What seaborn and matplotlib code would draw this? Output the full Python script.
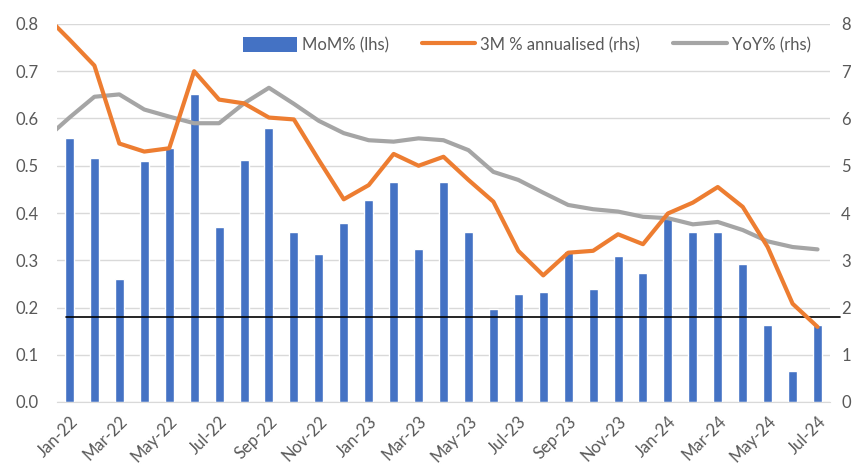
import numpy as np
import pandas as pd
import matplotlib
matplotlib.use("Agg")
import matplotlib.pyplot as plt
import seaborn as sns
from matplotlib.patches import Patch
from matplotlib.lines import Line2D

# ─────────────────────────────────────────────
# Data
# ─────────────────────────────────────────────
months = ["Jan-22", "Feb-22", "Mar-22", "Apr-22", "May-22", "Jun-22", "Jul-22", "Aug-22",
          "Sep-22", "Oct-22", "Nov-22", "Dec-22", "Jan-23", "Feb-23", "Mar-23", "Apr-23",
          "May-23", "Jun-23", "Jul-23", "Aug-23", "Sep-23", "Oct-23", "Nov-23", "Dec-23",
          "Jan-24", "Feb-24", "Mar-24", "Apr-24", "May-24", "Jun-24", "Jul-24"]

mom = [0.558, 0.516, 0.26, 0.509, 0.537, 0.651, 0.371, 0.513, 0.58, 0.36, 0.314, 0.378,
       0.427, 0.466, 0.324, 0.466, 0.36, 0.196, 0.229, 0.232, 0.32, 0.239, 0.31, 0.274,
       0.39, 0.36, 0.36, 0.292, 0.164, 0.065, 0.164]

ann3m = [7.67, 7.12, 5.47, 5.30, 5.37, 7.0, 6.4, 6.32, 6.02, 5.98, 5.12, 4.29, 4.59, 5.25,
         5.0, 5.19, 4.7, 4.24, 3.2, 2.68, 3.16, 3.2, 3.55, 3.34, 3.99, 4.22, 4.55, 4.13,
         3.28, 2.08, 1.59]

yoy = [6.02, 6.46, 6.51, 6.19, 6.04, 5.90, 5.90, 6.32, 6.65, 6.31, 5.95, 5.69, 5.54, 5.51,
       5.58, 5.54, 5.33, 4.87, 4.70, 4.43, 4.17, 4.08, 4.03, 3.92, 3.89, 3.76, 3.81, 3.64,
       3.40, 3.28, 3.23]

# Dec-21 values: the lines come in from the left edge of the plot (clipped)
ann3m_dec21 = 8.2
yoy_dec21 = 5.55

target_mom = 0.18

BLUE = "#4472C4"
ORANGE = "#ED7D31"
GREY = "#A5A5A5"
GRID = "#D9D9D9"
TEXT = "#595959"

bars = pd.DataFrame({"month": months, "mom": mom})
lines = pd.DataFrame({
    "pos": np.arange(-1, len(months)),
    "ann3m": [ann3m_dec21] + ann3m,
    "yoy": [yoy_dec21] + yoy,
})

# ─────────────────────────────────────────────
# Plot
# ─────────────────────────────────────────────
sns.set_style("white")
plt.rcParams["font.family"] = ["Lato", "DejaVu Sans"]
plt.rcParams["text.color"] = TEXT

fig, ax = plt.subplots(figsize=(8.6, 4.66), dpi=100)
fig.subplots_adjust(left=57 / 860, right=830 / 860, top=1 - 24 / 466, bottom=1 - 402 / 466)

sns.barplot(data=bars, x="month", y="mom", color=BLUE, saturation=1, width=0.36, ax=ax, zorder=2)
ax.axhline(target_mom, xmin=0.012, xmax=1.013, color="black", lw=1.2, zorder=3, clip_on=False)

ax2 = ax.twinx()
sns.lineplot(data=lines, x="pos", y="yoy", color=GREY, lw=3, ax=ax2)
sns.lineplot(data=lines, x="pos", y="ann3m", color=ORANGE, lw=3, ax=ax2)

ax.set_xlim(-0.5, len(months) - 0.5)
ax.set_ylim(0, 0.8)
ax2.set_ylim(0, 8)

ax.set_yticks(np.arange(0, 0.81, 0.1))
ax.set_yticklabels([f"{v:.1f}" for v in np.arange(0, 0.81, 0.1)])
ax2.set_yticks(range(0, 9))
ax.yaxis.grid(True, color=GRID, lw=1)
ax.set_axisbelow(True)

ax.set_xticks(range(0, len(months), 2))
ax.set_xticklabels(months[::2], rotation=45, ha="right", rotation_mode="anchor")
ax.set_xticks(np.arange(-0.5, len(months) - 1, 2), minor=True)
ax.tick_params(axis="x", which="major", length=0, pad=8, labelsize=12, labelcolor=TEXT)
ax.tick_params(axis="x", which="minor", length=5, color=GRID, width=1)
ax.tick_params(axis="y", length=0, pad=13, labelsize=12, labelcolor=TEXT)
ax2.tick_params(axis="y", length=0, pad=8, labelsize=12, labelcolor=TEXT)

for a in (ax, ax2):
    a.set_xlabel("")
    a.set_ylabel("")
    for s in ("top", "left", "right"):
        a.spines[s].set_visible(False)
ax.spines["bottom"].set_color(GRID)
ax2.spines["bottom"].set_visible(False)

handles = [
    Patch(facecolor=BLUE, edgecolor="none"),
    Line2D([], [], color=ORANGE, lw=3),
    Line2D([], [], color=GREY, lw=3),
]
labels = ["MoM% (lhs)", "3M % annualised (rhs)", "YoY% (rhs)"]
fig.legend(handles, labels, loc="center", bbox_to_anchor=(527 / 860, 1 - 45 / 466),
           ncol=3, frameon=False, fontsize=12, handlelength=3.2, handleheight=1.0,
           columnspacing=2.0, handletextpad=0.3, labelcolor=TEXT)

plt.savefig("out.png", dpi=100)
plt.close()
